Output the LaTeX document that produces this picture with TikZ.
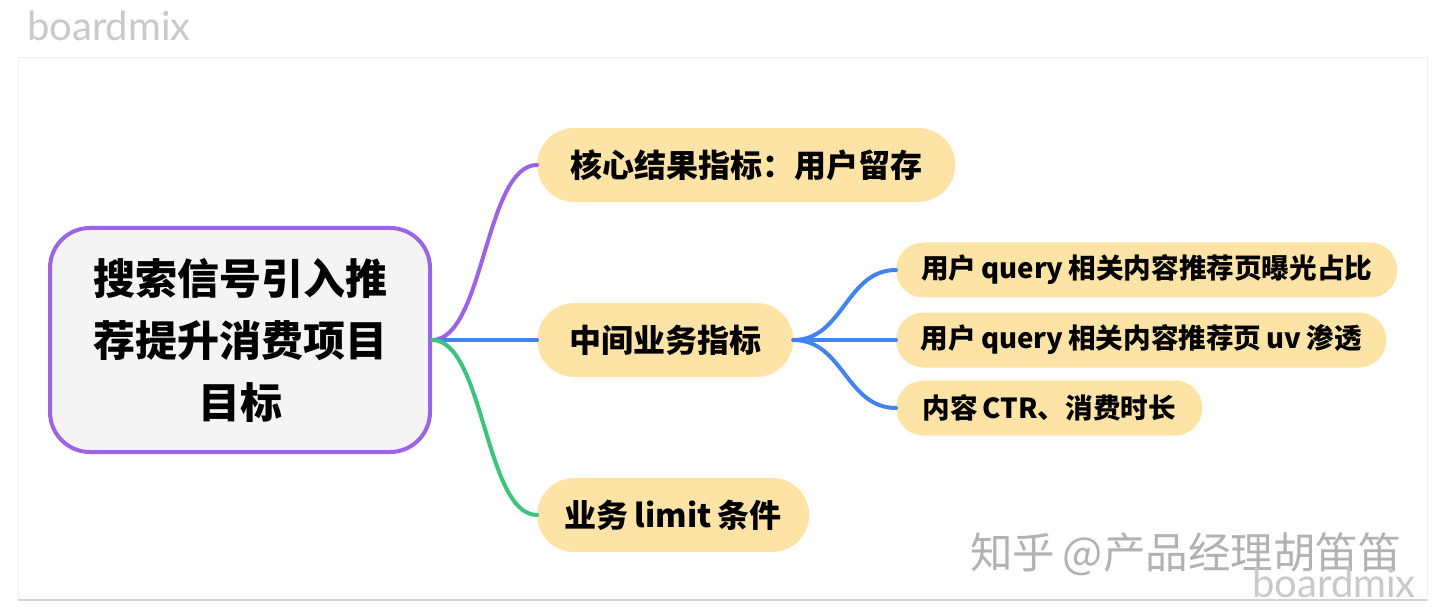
\documentclass[tikz,border=0pt]{standalone}
\usepackage{fontspec}
\setmainfont{Noto Sans CJK SC}[WordSpace=0.8]
\newfontfamily\latofont{Lato}
\definecolor{pillc}{HTML}{FDE3A5}
\definecolor{rootfill}{HTML}{F4F4F5}
\definecolor{purp}{HTML}{9C62E8}
\definecolor{bluec}{HTML}{4383F0}
\definecolor{greenc}{HTML}{3CC47C}
\definecolor{wmgray}{HTML}{C9C9C9}
\tikzset{
  rootbox/.style={draw=purp, line width=4pt, fill=rootfill, rounded corners=40pt,
    minimum width=380pt, minimum height=224pt, inner sep=0pt, align=center,
    font=\bfseries\fontsize{42}{62}\selectfont},
  pill/.style={fill=pillc, rounded corners=37pt, minimum height=74pt, inner sep=0pt,
    anchor=west, font=\bfseries\fontsize{32}{38}\selectfont},
  subpill/.style={fill=pillc, rounded corners=27pt, minimum height=55pt, inner sep=0pt,
    anchor=west, font=\bfseries\fontsize{27.6}{34}\selectfont},
  conn/.style={line width=4pt, line cap=round},
  wm/.style={text=wmgray, inner sep=0pt}
}
\begin{document}
\begin{tikzpicture}[x=1pt,y=-1pt]
\useasboundingbox (0,0) rectangle (1440,612);
\fill[white] (0,0) rectangle (1440,612);
% card
\draw[draw=black!6, fill=white] (18,57) rectangle (1427,600);
\draw[black!18, line width=1.2pt] (18,600) -- (1427,600);
% watermarks
\node[wm, anchor=base west, font=\latofont\fontsize{40}{44}\selectfont] (wm1) at (27,41) {boardmix};
\node[wm, text=black!30, anchor=base west, font=\fontsize{42.5}{46}\selectfont] (wm2) at (970,568) {知乎 @产品经理胡笛笛};
\node[wm, anchor=base east, font=\latofont\fontsize{40}{44}\selectfont] (wm3) at (1416,597) {boardmix};
% nodes
\node[rootbox] (root) at (240,340) {搜索信号引入推\\荐提升消费项目\\目标};
\node[pill, minimum width=418pt] (a) at (537,165) {核心结果指标：用户留存};
\node[pill, minimum width=256pt] (b) at (537,340) {中间业务指标};
\node[pill, minimum width=272pt] (c) at (537,515) {业务 limit 条件};
\node[subpill, minimum width=501pt] (s1) at (896,270) {用户 query 相关内容推荐页曝光占比};
\node[subpill, minimum width=490pt] (s2) at (896,340) {用户 query 相关内容推荐页 uv 渗透};
\node[subpill, minimum width=306pt] (s3) at (896,408) {内容 CTR、消费时长};
% connectors
\draw[conn, purp] (root.east) .. controls +(52,0) and +(-52,0) .. (a.west);
\draw[conn, bluec] (root.east) -- (b.west);
\draw[conn, greenc] (root.east) .. controls +(52,0) and +(-52,0) .. (c.west);
\draw[conn, bluec] (b.east) .. controls +(50,0) and +(-50,0) .. (s1.west);
\draw[conn, bluec] (b.east) -- (s2.west);
\draw[conn, bluec] (b.east) .. controls +(50,0) and +(-50,0) .. (s3.west);
\end{tikzpicture}
\end{document}
